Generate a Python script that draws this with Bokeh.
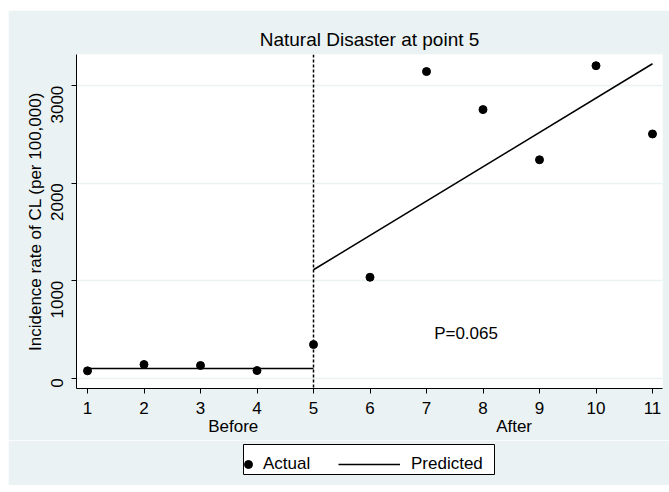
from bokeh.plotting import figure
from bokeh.models import (Range1d, Span, Label, LinearAxis, FixedTicker, Legend, LegendItem)
from bokeh.layouts import column
from bokeh.embed import file_html
from bokeh.resources import INLINE
import math

# ---- data ----
x_points = [1, 2, 3, 4, 5, 6, 7, 8, 9, 10, 11]
actual = [75, 140, 130, 78, 345, 1035, 3145, 2755, 2240, 3205, 2505]
pred_x_before = [1, 5]
pred_before = [100, 100]
pred_x_after = [5, 11]
pred_after = [1112, 3225]
intervention = 5
x_ticks = [1, 2, 3, 4, 5, 6, 7, 8, 9, 10, 11]
y_ticks = [0, 1000, 2000, 3000]
period_pos = [3.58, 8.55]
period_labels = ["Before", "After"]
p_text = "P=0.065"
p_pos = (7.7, 458)
legend_labels = ["Actual", "Predicted"]

FONT = "Liberation Sans"
BG = "#eaf2f3"
FS = "17px"

p = figure(width=661, height=430, output_backend="svg", toolbar_location=None,
           x_range=Range1d(0.805, 11.177), y_range=Range1d(-106, 3320),
           min_border_left=68, min_border_right=7, min_border_top=44, min_border_bottom=52,
           background_fill_color="white", border_fill_color=BG, outline_line_color=None,
           frame_align=False)

p.title.text = "Natural Disaster at point 5"
p.title.align = "center"
p.title.text_font = FONT
p.title.text_font_size = "19px"
p.title.text_font_style = "normal"
p.title.text_color = "black"

# axes
p.xaxis.ticker = FixedTicker(ticks=x_ticks)
p.yaxis.ticker = FixedTicker(ticks=y_ticks)
for ax in (p.xaxis[0], p.yaxis[0]):
    ax.major_label_text_font = FONT
    ax.major_label_text_font_size = FS
    ax.major_label_text_color = "black"
    ax.axis_line_color = "black"
    ax.major_tick_line_color = "black"
    ax.major_tick_out = 5
    ax.major_tick_in = 0
    ax.minor_tick_line_color = None
p.yaxis.major_label_orientation = math.pi / 2
p.yaxis.major_label_standoff = 14
p.yaxis.axis_label = "Incidence rate of CL (per 100,000)"
p.yaxis.axis_label_text_font = FONT
p.yaxis.axis_label_text_font_size = FS
p.yaxis.axis_label_text_font_style = "normal"
p.yaxis.axis_label_text_color = "black"
p.yaxis.axis_label_standoff = -2
p.xaxis.major_label_standoff = 8

period_axis = LinearAxis(ticker=FixedTicker(ticks=period_pos),
                         major_label_overrides={pos: lab for pos, lab in zip(period_pos, period_labels)},
                         axis_line_color=None, major_tick_line_color=None, minor_tick_line_color=None,
                         major_label_text_font=FONT, major_label_text_font_size=FS,
                         major_label_text_color="black", major_label_standoff=-6)
p.add_layout(period_axis, "below")

p.xgrid.grid_line_color = None
p.ygrid.ticker = FixedTicker(ticks=y_ticks)
p.ygrid.grid_line_color = BG
p.ygrid.grid_line_width = 1.5

# marks
p.scatter(x_points, actual, size=8, color="black")
p.line(pred_x_before, pred_before, line_color="black", line_width=1.5)
p.line(pred_x_after, pred_after, line_color="black", line_width=1.5)

p.add_layout(Span(location=intervention, dimension="height", line_color="black",
                  line_dash="3 2", line_width=1.5))

p.add_layout(Label(x=p_pos[0], y=p_pos[1], text=p_text, text_align="center",
                   text_baseline="middle", text_font=FONT, text_font_size=FS,
                   text_color="black"))

# ---- legend strip (its frame is the legend box) ----
q = figure(width=661, height=45, output_backend="svg", toolbar_location=None,
           x_axis_type=None, y_axis_type=None,
           x_range=Range1d(-1, 0), y_range=Range1d(-1, 0),
           min_border_left=235, min_border_right=175, min_border_top=4, min_border_bottom=11,
           background_fill_color="white", border_fill_color=BG,
           outline_line_color="black", outline_line_width=1, frame_align=False)
q.xgrid.grid_line_color = None
q.ygrid.grid_line_color = None
# legend proxies: same data, but the strip's ranges keep them out of view
r_pts = q.scatter(x_points, actual, size=8, color="black")
r_line = q.line(pred_x_after, pred_after, line_color="black", line_width=1.5)

common = dict(orientation="horizontal", border_line_color=None,
              background_fill_alpha=0, label_text_font=FONT, label_text_font_size=FS,
              label_text_color="black", padding=5, margin=0, glyph_height=20,
              label_height=20)
leg_a = Legend(items=[LegendItem(label=legend_labels[0], renderers=[r_pts])],
               location=(-5, 0), glyph_width=20, label_standoff=5, **common)
leg_b = Legend(items=[LegendItem(label=legend_labels[1], renderers=[r_line])],
               location=(95, 0), glyph_width=62, label_standoff=11, **common)
q.add_layout(leg_a, "center")
q.add_layout(leg_b, "center")

layout = column(p, q, spacing=0, margin=(10, 0, 0, 8))

open("out.html", "w").write(file_html(layout, INLINE))
